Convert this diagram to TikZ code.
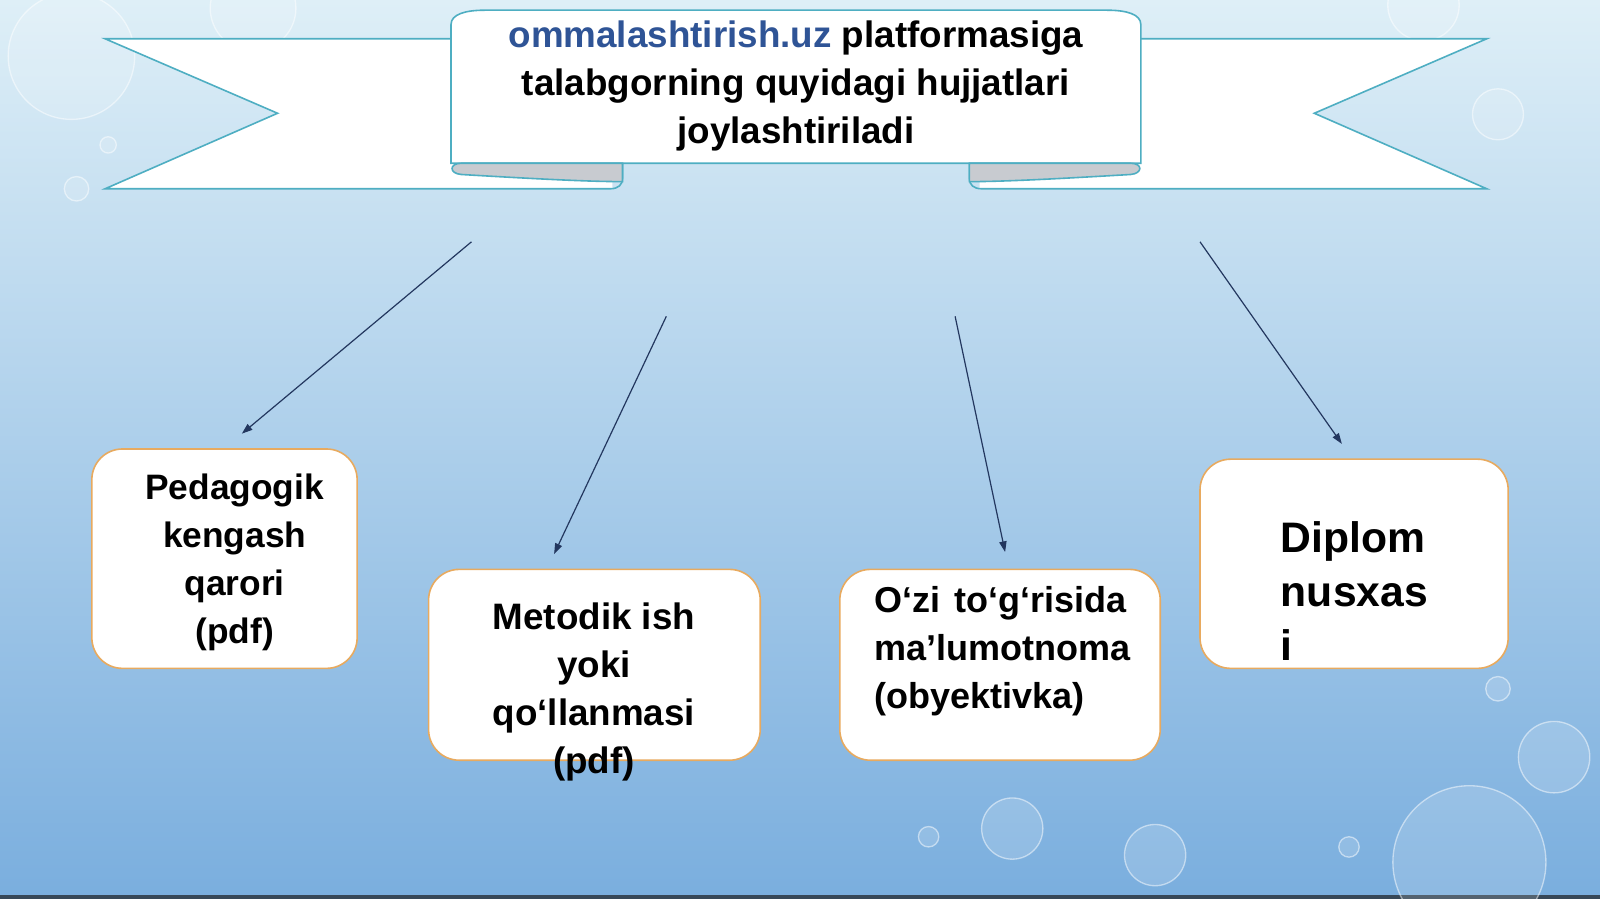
\documentclass[tikz,border=0pt]{standalone}
\usepackage{fontspec}
\setmainfont{Liberation Sans}
\usetikzlibrary{arrows.meta,positioning}

\definecolor{ribbonteal}{RGB}{78,174,194}
\definecolor{rollgrey}{RGB}{200,203,208}
\definecolor{boxorange}{RGB}{232,170,95}
\definecolor{arrownavy}{RGB}{35,55,95}
\definecolor{sitenavy}{RGB}{47,84,150}
\definecolor{bgtop}{RGB}{222,239,247}
\definecolor{bgmid}{RGB}{196,223,240}
\definecolor{bgbot}{RGB}{122,174,222}
\definecolor{bgstrip}{RGB}{55,72,88}

\newdimen\pxu \pxu=0.7653pt

\tikzset{
  ribbon/.style={draw=ribbonteal, line width=1.2pt},
  docbox/.style={draw=boxorange, line width=1.2pt, fill=white, rounded corners=23pt, inner sep=0pt},
  doctext/.style={inner sep=0pt, font=\bfseries\fontsize{26}{36}\selectfont},
  docarrow/.style={draw=arrownavy, line width=0.9pt, -{Triangle[length=8pt,width=5.5pt]}},
  bubble/.style={draw=white, draw opacity=0.5, fill=white, fill opacity=0.15, line width=1pt},
}

\begin{document}
\begin{tikzpicture}[x=0.7653pt,y=0.7653pt,yscale=-1,xscale=1]
\path[use as bounding box] (0,0) rectangle (1568,881);

% background
\shade[top color=bgtop, middle color=bgmid, bottom color=bgbot] (0,0) rectangle (1568,881);
\fill[bgstrip] (0,877) rectangle (1568,881);
\foreach \bx/\by/\br in {70/55/62, 248/8/42, 106/142/8, 75/185/12, 1395/5/35, 1468/112/25,
  1468/675/12, 1523/742/35, 992/812/30, 1132/838/30, 910/820/10, 1322/830/10, 1440/845/75}
  \draw[bubble] (\bx,\by) circle (\br);

% ribbon tails
\path[fill=white] (450,38) -- (103,38) -- (272,111) -- (103,185) -- (600,185) -- (600,150) -- (450,150) -- cycle;
\draw[ribbon] (442,38) -- (103,38) -- (272,111) -- (103,185) -- (598,185) .. controls (606,185) and (610,181) .. (610,175) -- (610,160);
\path[fill=white] (1110,38) -- (1457,38) -- (1288,111) -- (1457,185) -- (960,185) -- (960,150) -- (1110,150) -- cycle;
\draw[ribbon] (1118,38) -- (1457,38) -- (1288,111) -- (1457,185) -- (962,185) .. controls (954,185) and (950,181) .. (950,175) -- (950,160);

% ribbon panel
\draw[ribbon, fill=white] (442,160) -- (442,24) .. controls (442,14) and (456,10) .. (475,10) -- (1085,10) .. controls (1104,10) and (1118,14) .. (1118,24) -- (1118,160) -- cycle;
\draw[ribbon, fill=rollgrey] (610,160) -- (452,160) .. controls (440,160) and (440,170) .. (452,171) .. controls (520,175) and (575,178) .. (610,178) -- cycle;
\draw[ribbon, fill=rollgrey] (950,160) -- (1108,160) .. controls (1120,160) and (1120,170) .. (1108,171) .. controls (1040,175) and (985,178) .. (950,178) -- cycle;

\node[inner sep=0pt, align=center, font=\bfseries\fontsize{27.6}{36}\selectfont] (title) at (780,84)
  {\textcolor{sitenavy}{ommalashtirish.uz} platformasiga\\talabgorning quyidagi hujjatlari\\joylashtiriladi};

% document boxes
\node[docbox, minimum width=260\pxu, minimum height=215\pxu] (pedbox) at (220,547.5) {};
\node[docbox, minimum width=325\pxu, minimum height=187\pxu] (metbox) at (582.5,651.5) {};
\node[docbox, minimum width=314\pxu, minimum height=187\pxu] (obybox) at (980,651.5) {};
\node[docbox, minimum width=302\pxu, minimum height=205\pxu] (dipbox) at (1327,552.5) {};

\node[doctext, align=center, font=\bfseries\fontsize{26.5}{36}\selectfont] (pedtext) at (230,551) {Pedagogik\\kengash\\qarori\\(pdf)};
\node[doctext, align=center, font=\bfseries\fontsize{27.6}{36}\selectfont] (mettext) at (582,678) {Metodik ish\\yoki\\qo‘llanmasi\\(pdf)};
\node[doctext, align=left, anchor=west, font=\bfseries\fontsize{27}{36}\selectfont] (obytext) at (857,638) {O‘zi\hspace{3pt} to‘g‘risida\\ma’lumotnoma\\(obyektivka)};
\node[doctext, align=left, anchor=west, font=\bfseries\fontsize{32}{40.5}\selectfont] (diptext) at (1255,579) {Diplom\\nusxas\\i};

% arrows
\coordinate (pedfrom) at (462,237);
\coordinate (pedtip) at (237,425);
\coordinate (metfrom) at (653,310);
\coordinate (mettip) at (543,543);
\coordinate (obyfrom) at (936,310);
\coordinate (obytip) at (985,541);
\coordinate (dipfrom) at (1176,237);
\coordinate (diptip) at (1315,435);
\draw[docarrow] (pedfrom) -- (pedtip);
\draw[docarrow] (metfrom) -- (mettip);
\draw[docarrow] (obyfrom) -- (obytip);
\draw[docarrow] (dipfrom) -- (diptip);

\end{tikzpicture}
\end{document}
